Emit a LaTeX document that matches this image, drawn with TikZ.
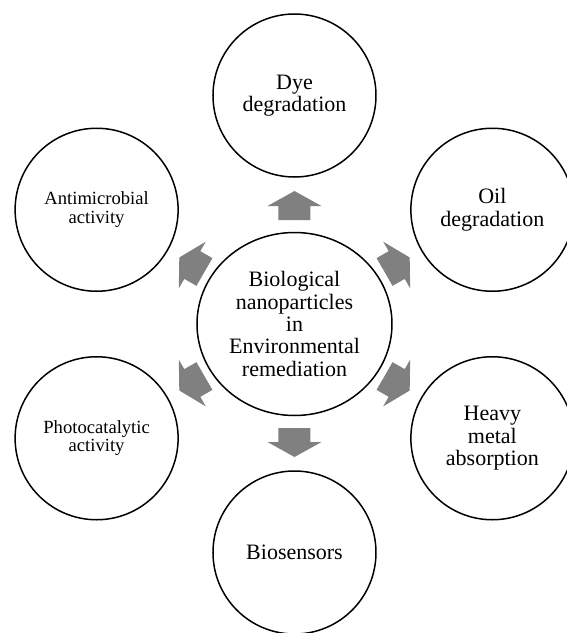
\documentclass[tikz,border=0pt]{standalone}
\usepackage{fontspec}
\setmainfont{Liberation Serif}
\usetikzlibrary{shapes.geometric}
\tikzset{
hub/.style={
  ellipse,
  draw,
  line width=1.5pt,
  minimum width=195pt,
  minimum height=183pt,
  inner sep=0pt,
  align=center,
  font=\fontsize{22}{22.3}\selectfont,
},
leaf/.style={
  circle,
  draw,
  line width=1.5pt,
  minimum size=163pt,
  inner sep=0pt,
  align=center,
  font=\fontsize{22}{22.3}\selectfont,
},
smalltxt/.style={font=\fontsize{18.6}{18.4}\selectfont},
blk/.style={fill=gray, draw=none},
}
\begin{document}
\begin{tikzpicture}[x=1pt,y=1pt]
\useasboundingbox (-294.5,-309) rectangle (272.5,324);
\node[hub] (hub) at (0,0) {Biological\\nanoparticles\\in\\Environmental\\remediation};
\node[leaf] (dye) at (90:228.5) {Dye\\degradation};
\node[leaf] (oil) at (30:228.5) {Oil\\degradation};
\node[leaf] (metal) at (-30:228.5) {Heavy\\metal\\absorption};
\node[leaf] (sensor) at (-90:228.5) {Biosensors};
\node[leaf,smalltxt] (photo) at (-150:228.5) {Photocatalytic\\activity};
\node[leaf,smalltxt] (microb) at (150:228.5) {Antimicrobial\\activity};

% block arrows pointing out of the hub
\foreach \ang in {90,30,-30,-90,-150,150}
  \fill[blk, shift={(hub.center)}, rotate=\ang]
    (104,-16) -- (118,-16) -- (118,-27) -- (133,0) -- (118,27) -- (118,16) -- (104,16) -- cycle;
\end{tikzpicture}
\end{document}
